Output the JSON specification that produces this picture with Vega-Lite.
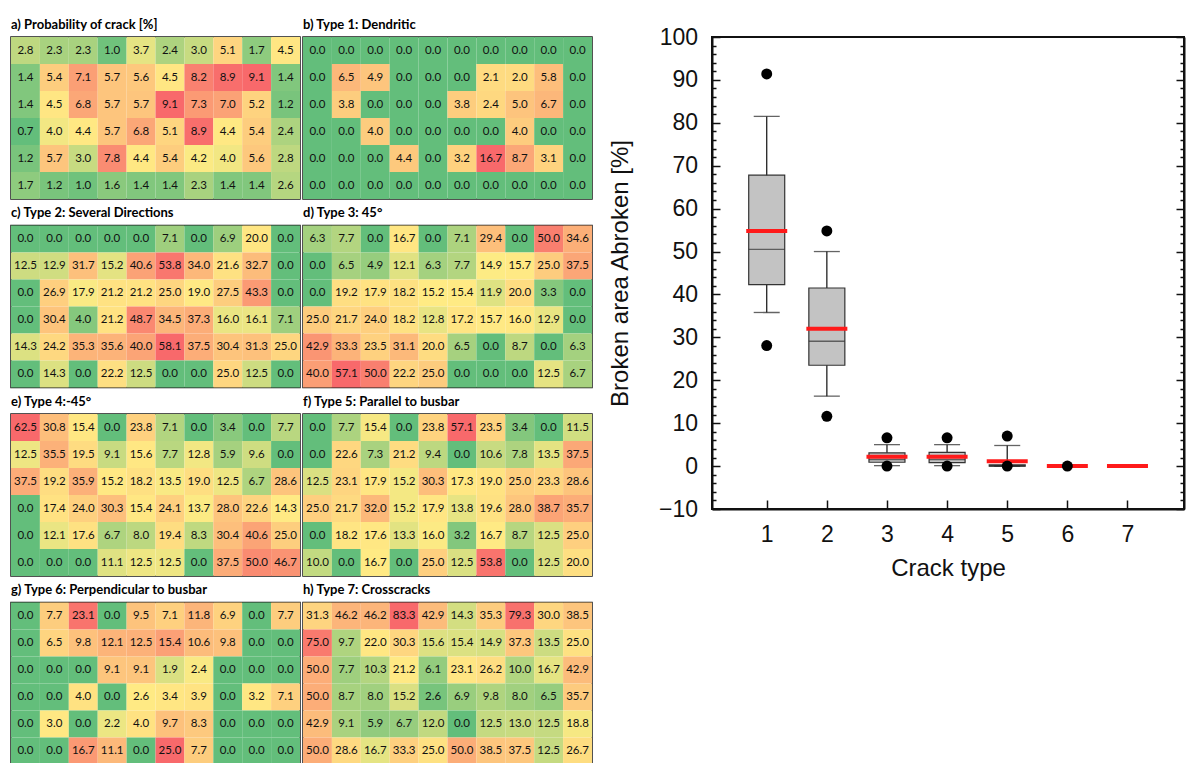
{
"$schema": "https://vega.github.io/schema/vega-lite/v6.json",
"padding": {"left": 10, "top": 17, "right": 7, "bottom": 0},
"background": "white",
"config": {"view": {"stroke": "#1a1a1a", "strokeWidth": 1.5}, "font": "Liberation Sans"},
"datasets": {
"cells": [
{"p":"a","r":1,"c":1,"v":2.8},{"p":"a","r":1,"c":2,"v":2.3},{"p":"a","r":1,"c":3,"v":2.3},{"p":"a","r":1,"c":4,"v":1.0},{"p":"a","r":1,"c":5,"v":3.7},{"p":"a","r":1,"c":6,"v":2.4},{"p":"a","r":1,"c":7,"v":3.0},{"p":"a","r":1,"c":8,"v":5.1},{"p":"a","r":1,"c":9,"v":1.7},{"p":"a","r":1,"c":10,"v":4.5},
{"p":"a","r":2,"c":1,"v":1.4},{"p":"a","r":2,"c":2,"v":5.4},{"p":"a","r":2,"c":3,"v":7.1},{"p":"a","r":2,"c":4,"v":5.7},{"p":"a","r":2,"c":5,"v":5.6},{"p":"a","r":2,"c":6,"v":4.5},{"p":"a","r":2,"c":7,"v":8.2},{"p":"a","r":2,"c":8,"v":8.9},{"p":"a","r":2,"c":9,"v":9.1},{"p":"a","r":2,"c":10,"v":1.4},
{"p":"a","r":3,"c":1,"v":1.4},{"p":"a","r":3,"c":2,"v":4.5},{"p":"a","r":3,"c":3,"v":6.8},{"p":"a","r":3,"c":4,"v":5.7},{"p":"a","r":3,"c":5,"v":5.7},{"p":"a","r":3,"c":6,"v":9.1},{"p":"a","r":3,"c":7,"v":7.3},{"p":"a","r":3,"c":8,"v":7.0},{"p":"a","r":3,"c":9,"v":5.2},{"p":"a","r":3,"c":10,"v":1.2},
{"p":"a","r":4,"c":1,"v":0.7},{"p":"a","r":4,"c":2,"v":4.0},{"p":"a","r":4,"c":3,"v":4.4},{"p":"a","r":4,"c":4,"v":5.7},{"p":"a","r":4,"c":5,"v":6.8},{"p":"a","r":4,"c":6,"v":5.1},{"p":"a","r":4,"c":7,"v":8.9},{"p":"a","r":4,"c":8,"v":4.4},{"p":"a","r":4,"c":9,"v":5.4},{"p":"a","r":4,"c":10,"v":2.4},
{"p":"a","r":5,"c":1,"v":1.2},{"p":"a","r":5,"c":2,"v":5.7},{"p":"a","r":5,"c":3,"v":3.0},{"p":"a","r":5,"c":4,"v":7.8},{"p":"a","r":5,"c":5,"v":4.4},{"p":"a","r":5,"c":6,"v":5.4},{"p":"a","r":5,"c":7,"v":4.2},{"p":"a","r":5,"c":8,"v":4.0},{"p":"a","r":5,"c":9,"v":5.6},{"p":"a","r":5,"c":10,"v":2.8},
{"p":"a","r":6,"c":1,"v":1.7},{"p":"a","r":6,"c":2,"v":1.2},{"p":"a","r":6,"c":3,"v":1.0},{"p":"a","r":6,"c":4,"v":1.6},{"p":"a","r":6,"c":5,"v":1.4},{"p":"a","r":6,"c":6,"v":1.4},{"p":"a","r":6,"c":7,"v":2.3},{"p":"a","r":6,"c":8,"v":1.4},{"p":"a","r":6,"c":9,"v":1.4},{"p":"a","r":6,"c":10,"v":2.6},
{"p":"b","r":1,"c":1,"v":0},{"p":"b","r":1,"c":2,"v":0},{"p":"b","r":1,"c":3,"v":0},{"p":"b","r":1,"c":4,"v":0},{"p":"b","r":1,"c":5,"v":0},{"p":"b","r":1,"c":6,"v":0},{"p":"b","r":1,"c":7,"v":0},{"p":"b","r":1,"c":8,"v":0},{"p":"b","r":1,"c":9,"v":0},{"p":"b","r":1,"c":10,"v":0},
{"p":"b","r":2,"c":1,"v":0},{"p":"b","r":2,"c":2,"v":6.5},{"p":"b","r":2,"c":3,"v":4.9},{"p":"b","r":2,"c":4,"v":0},{"p":"b","r":2,"c":5,"v":0},{"p":"b","r":2,"c":6,"v":0},{"p":"b","r":2,"c":7,"v":2.1},{"p":"b","r":2,"c":8,"v":2.0},{"p":"b","r":2,"c":9,"v":5.8},{"p":"b","r":2,"c":10,"v":0},
{"p":"b","r":3,"c":1,"v":0},{"p":"b","r":3,"c":2,"v":3.8},{"p":"b","r":3,"c":3,"v":0},{"p":"b","r":3,"c":4,"v":0},{"p":"b","r":3,"c":5,"v":0},{"p":"b","r":3,"c":6,"v":3.8},{"p":"b","r":3,"c":7,"v":2.4},{"p":"b","r":3,"c":8,"v":5.0},{"p":"b","r":3,"c":9,"v":6.7},{"p":"b","r":3,"c":10,"v":0},
{"p":"b","r":4,"c":1,"v":0},{"p":"b","r":4,"c":2,"v":0},{"p":"b","r":4,"c":3,"v":4.0},{"p":"b","r":4,"c":4,"v":0},{"p":"b","r":4,"c":5,"v":0},{"p":"b","r":4,"c":6,"v":0},{"p":"b","r":4,"c":7,"v":0},{"p":"b","r":4,"c":8,"v":4.0},{"p":"b","r":4,"c":9,"v":0},{"p":"b","r":4,"c":10,"v":0},
{"p":"b","r":5,"c":1,"v":0},{"p":"b","r":5,"c":2,"v":0},{"p":"b","r":5,"c":3,"v":0},{"p":"b","r":5,"c":4,"v":4.4},{"p":"b","r":5,"c":5,"v":0},{"p":"b","r":5,"c":6,"v":3.2},{"p":"b","r":5,"c":7,"v":16.7},{"p":"b","r":5,"c":8,"v":8.7},{"p":"b","r":5,"c":9,"v":3.1},{"p":"b","r":5,"c":10,"v":0},
{"p":"b","r":6,"c":1,"v":0},{"p":"b","r":6,"c":2,"v":0},{"p":"b","r":6,"c":3,"v":0},{"p":"b","r":6,"c":4,"v":0},{"p":"b","r":6,"c":5,"v":0},{"p":"b","r":6,"c":6,"v":0},{"p":"b","r":6,"c":7,"v":0},{"p":"b","r":6,"c":8,"v":0},{"p":"b","r":6,"c":9,"v":0},{"p":"b","r":6,"c":10,"v":0},
{"p":"c","r":1,"c":1,"v":0},{"p":"c","r":1,"c":2,"v":0},{"p":"c","r":1,"c":3,"v":0},{"p":"c","r":1,"c":4,"v":0},{"p":"c","r":1,"c":5,"v":0},{"p":"c","r":1,"c":6,"v":7.1},{"p":"c","r":1,"c":7,"v":0},{"p":"c","r":1,"c":8,"v":6.9},{"p":"c","r":1,"c":9,"v":20.0},{"p":"c","r":1,"c":10,"v":0},
{"p":"c","r":2,"c":1,"v":12.5},{"p":"c","r":2,"c":2,"v":12.9},{"p":"c","r":2,"c":3,"v":31.7},{"p":"c","r":2,"c":4,"v":15.2},{"p":"c","r":2,"c":5,"v":40.6},{"p":"c","r":2,"c":6,"v":53.8},{"p":"c","r":2,"c":7,"v":34.0},{"p":"c","r":2,"c":8,"v":21.6},{"p":"c","r":2,"c":9,"v":32.7},{"p":"c","r":2,"c":10,"v":0},
{"p":"c","r":3,"c":1,"v":0},{"p":"c","r":3,"c":2,"v":26.9},{"p":"c","r":3,"c":3,"v":17.9},{"p":"c","r":3,"c":4,"v":21.2},{"p":"c","r":3,"c":5,"v":21.2},{"p":"c","r":3,"c":6,"v":25.0},{"p":"c","r":3,"c":7,"v":19.0},{"p":"c","r":3,"c":8,"v":27.5},{"p":"c","r":3,"c":9,"v":43.3},{"p":"c","r":3,"c":10,"v":0},
{"p":"c","r":4,"c":1,"v":0},{"p":"c","r":4,"c":2,"v":30.4},{"p":"c","r":4,"c":3,"v":4.0},{"p":"c","r":4,"c":4,"v":21.2},{"p":"c","r":4,"c":5,"v":48.7},{"p":"c","r":4,"c":6,"v":34.5},{"p":"c","r":4,"c":7,"v":37.3},{"p":"c","r":4,"c":8,"v":16.0},{"p":"c","r":4,"c":9,"v":16.1},{"p":"c","r":4,"c":10,"v":7.1},
{"p":"c","r":5,"c":1,"v":14.3},{"p":"c","r":5,"c":2,"v":24.2},{"p":"c","r":5,"c":3,"v":35.3},{"p":"c","r":5,"c":4,"v":35.6},{"p":"c","r":5,"c":5,"v":40.0},{"p":"c","r":5,"c":6,"v":58.1},{"p":"c","r":5,"c":7,"v":37.5},{"p":"c","r":5,"c":8,"v":30.4},{"p":"c","r":5,"c":9,"v":31.3},{"p":"c","r":5,"c":10,"v":25.0},
{"p":"c","r":6,"c":1,"v":0},{"p":"c","r":6,"c":2,"v":14.3},{"p":"c","r":6,"c":3,"v":0},{"p":"c","r":6,"c":4,"v":22.2},{"p":"c","r":6,"c":5,"v":12.5},{"p":"c","r":6,"c":6,"v":0},{"p":"c","r":6,"c":7,"v":0},{"p":"c","r":6,"c":8,"v":25.0},{"p":"c","r":6,"c":9,"v":12.5},{"p":"c","r":6,"c":10,"v":0},
{"p":"d","r":1,"c":1,"v":6.3},{"p":"d","r":1,"c":2,"v":7.7},{"p":"d","r":1,"c":3,"v":0},{"p":"d","r":1,"c":4,"v":16.7},{"p":"d","r":1,"c":5,"v":0},{"p":"d","r":1,"c":6,"v":7.1},{"p":"d","r":1,"c":7,"v":29.4},{"p":"d","r":1,"c":8,"v":0},{"p":"d","r":1,"c":9,"v":50.0},{"p":"d","r":1,"c":10,"v":34.6},
{"p":"d","r":2,"c":1,"v":0},{"p":"d","r":2,"c":2,"v":6.5},{"p":"d","r":2,"c":3,"v":4.9},{"p":"d","r":2,"c":4,"v":12.1},{"p":"d","r":2,"c":5,"v":6.3},{"p":"d","r":2,"c":6,"v":7.7},{"p":"d","r":2,"c":7,"v":14.9},{"p":"d","r":2,"c":8,"v":15.7},{"p":"d","r":2,"c":9,"v":25.0},{"p":"d","r":2,"c":10,"v":37.5},
{"p":"d","r":3,"c":1,"v":0},{"p":"d","r":3,"c":2,"v":19.2},{"p":"d","r":3,"c":3,"v":17.9},{"p":"d","r":3,"c":4,"v":18.2},{"p":"d","r":3,"c":5,"v":15.2},{"p":"d","r":3,"c":6,"v":15.4},{"p":"d","r":3,"c":7,"v":11.9},{"p":"d","r":3,"c":8,"v":20.0},{"p":"d","r":3,"c":9,"v":3.3},{"p":"d","r":3,"c":10,"v":0},
{"p":"d","r":4,"c":1,"v":25.0},{"p":"d","r":4,"c":2,"v":21.7},{"p":"d","r":4,"c":3,"v":24.0},{"p":"d","r":4,"c":4,"v":18.2},{"p":"d","r":4,"c":5,"v":12.8},{"p":"d","r":4,"c":6,"v":17.2},{"p":"d","r":4,"c":7,"v":15.7},{"p":"d","r":4,"c":8,"v":16.0},{"p":"d","r":4,"c":9,"v":12.9},{"p":"d","r":4,"c":10,"v":0},
{"p":"d","r":5,"c":1,"v":42.9},{"p":"d","r":5,"c":2,"v":33.3},{"p":"d","r":5,"c":3,"v":23.5},{"p":"d","r":5,"c":4,"v":31.1},{"p":"d","r":5,"c":5,"v":20.0},{"p":"d","r":5,"c":6,"v":6.5},{"p":"d","r":5,"c":7,"v":0},{"p":"d","r":5,"c":8,"v":8.7},{"p":"d","r":5,"c":9,"v":0},{"p":"d","r":5,"c":10,"v":6.3},
{"p":"d","r":6,"c":1,"v":40.0},{"p":"d","r":6,"c":2,"v":57.1},{"p":"d","r":6,"c":3,"v":50.0},{"p":"d","r":6,"c":4,"v":22.2},{"p":"d","r":6,"c":5,"v":25.0},{"p":"d","r":6,"c":6,"v":0},{"p":"d","r":6,"c":7,"v":0},{"p":"d","r":6,"c":8,"v":0},{"p":"d","r":6,"c":9,"v":12.5},{"p":"d","r":6,"c":10,"v":6.7},
{"p":"e","r":1,"c":1,"v":62.5},{"p":"e","r":1,"c":2,"v":30.8},{"p":"e","r":1,"c":3,"v":15.4},{"p":"e","r":1,"c":4,"v":0},{"p":"e","r":1,"c":5,"v":23.8},{"p":"e","r":1,"c":6,"v":7.1},{"p":"e","r":1,"c":7,"v":0},{"p":"e","r":1,"c":8,"v":3.4},{"p":"e","r":1,"c":9,"v":0},{"p":"e","r":1,"c":10,"v":7.7},
{"p":"e","r":2,"c":1,"v":12.5},{"p":"e","r":2,"c":2,"v":35.5},{"p":"e","r":2,"c":3,"v":19.5},{"p":"e","r":2,"c":4,"v":9.1},{"p":"e","r":2,"c":5,"v":15.6},{"p":"e","r":2,"c":6,"v":7.7},{"p":"e","r":2,"c":7,"v":12.8},{"p":"e","r":2,"c":8,"v":5.9},{"p":"e","r":2,"c":9,"v":9.6},{"p":"e","r":2,"c":10,"v":0},
{"p":"e","r":3,"c":1,"v":37.5},{"p":"e","r":3,"c":2,"v":19.2},{"p":"e","r":3,"c":3,"v":35.9},{"p":"e","r":3,"c":4,"v":15.2},{"p":"e","r":3,"c":5,"v":18.2},{"p":"e","r":3,"c":6,"v":13.5},{"p":"e","r":3,"c":7,"v":19.0},{"p":"e","r":3,"c":8,"v":12.5},{"p":"e","r":3,"c":9,"v":6.7},{"p":"e","r":3,"c":10,"v":28.6},
{"p":"e","r":4,"c":1,"v":0},{"p":"e","r":4,"c":2,"v":17.4},{"p":"e","r":4,"c":3,"v":24.0},{"p":"e","r":4,"c":4,"v":30.3},{"p":"e","r":4,"c":5,"v":15.4},{"p":"e","r":4,"c":6,"v":24.1},{"p":"e","r":4,"c":7,"v":13.7},{"p":"e","r":4,"c":8,"v":28.0},{"p":"e","r":4,"c":9,"v":22.6},{"p":"e","r":4,"c":10,"v":14.3},
{"p":"e","r":5,"c":1,"v":0},{"p":"e","r":5,"c":2,"v":12.1},{"p":"e","r":5,"c":3,"v":17.6},{"p":"e","r":5,"c":4,"v":6.7},{"p":"e","r":5,"c":5,"v":8.0},{"p":"e","r":5,"c":6,"v":19.4},{"p":"e","r":5,"c":7,"v":8.3},{"p":"e","r":5,"c":8,"v":30.4},{"p":"e","r":5,"c":9,"v":40.6},{"p":"e","r":5,"c":10,"v":25.0},
{"p":"e","r":6,"c":1,"v":0},{"p":"e","r":6,"c":2,"v":0},{"p":"e","r":6,"c":3,"v":0},{"p":"e","r":6,"c":4,"v":11.1},{"p":"e","r":6,"c":5,"v":12.5},{"p":"e","r":6,"c":6,"v":12.5},{"p":"e","r":6,"c":7,"v":0},{"p":"e","r":6,"c":8,"v":37.5},{"p":"e","r":6,"c":9,"v":50.0},{"p":"e","r":6,"c":10,"v":46.7},
{"p":"f","r":1,"c":1,"v":0},{"p":"f","r":1,"c":2,"v":7.7},{"p":"f","r":1,"c":3,"v":15.4},{"p":"f","r":1,"c":4,"v":0},{"p":"f","r":1,"c":5,"v":23.8},{"p":"f","r":1,"c":6,"v":57.1},{"p":"f","r":1,"c":7,"v":23.5},{"p":"f","r":1,"c":8,"v":3.4},{"p":"f","r":1,"c":9,"v":0},{"p":"f","r":1,"c":10,"v":11.5},
{"p":"f","r":2,"c":1,"v":0},{"p":"f","r":2,"c":2,"v":22.6},{"p":"f","r":2,"c":3,"v":7.3},{"p":"f","r":2,"c":4,"v":21.2},{"p":"f","r":2,"c":5,"v":9.4},{"p":"f","r":2,"c":6,"v":0},{"p":"f","r":2,"c":7,"v":10.6},{"p":"f","r":2,"c":8,"v":7.8},{"p":"f","r":2,"c":9,"v":13.5},{"p":"f","r":2,"c":10,"v":37.5},
{"p":"f","r":3,"c":1,"v":12.5},{"p":"f","r":3,"c":2,"v":23.1},{"p":"f","r":3,"c":3,"v":17.9},{"p":"f","r":3,"c":4,"v":15.2},{"p":"f","r":3,"c":5,"v":30.3},{"p":"f","r":3,"c":6,"v":17.3},{"p":"f","r":3,"c":7,"v":19.0},{"p":"f","r":3,"c":8,"v":25.0},{"p":"f","r":3,"c":9,"v":23.3},{"p":"f","r":3,"c":10,"v":28.6},
{"p":"f","r":4,"c":1,"v":25.0},{"p":"f","r":4,"c":2,"v":21.7},{"p":"f","r":4,"c":3,"v":32.0},{"p":"f","r":4,"c":4,"v":15.2},{"p":"f","r":4,"c":5,"v":17.9},{"p":"f","r":4,"c":6,"v":13.8},{"p":"f","r":4,"c":7,"v":19.6},{"p":"f","r":4,"c":8,"v":28.0},{"p":"f","r":4,"c":9,"v":38.7},{"p":"f","r":4,"c":10,"v":35.7},
{"p":"f","r":5,"c":1,"v":0},{"p":"f","r":5,"c":2,"v":18.2},{"p":"f","r":5,"c":3,"v":17.6},{"p":"f","r":5,"c":4,"v":13.3},{"p":"f","r":5,"c":5,"v":16.0},{"p":"f","r":5,"c":6,"v":3.2},{"p":"f","r":5,"c":7,"v":16.7},{"p":"f","r":5,"c":8,"v":8.7},{"p":"f","r":5,"c":9,"v":12.5},{"p":"f","r":5,"c":10,"v":25.0},
{"p":"f","r":6,"c":1,"v":10.0},{"p":"f","r":6,"c":2,"v":0},{"p":"f","r":6,"c":3,"v":16.7},{"p":"f","r":6,"c":4,"v":0},{"p":"f","r":6,"c":5,"v":25.0},{"p":"f","r":6,"c":6,"v":12.5},{"p":"f","r":6,"c":7,"v":53.8},{"p":"f","r":6,"c":8,"v":0},{"p":"f","r":6,"c":9,"v":12.5},{"p":"f","r":6,"c":10,"v":20.0},
{"p":"g","r":1,"c":1,"v":0},{"p":"g","r":1,"c":2,"v":7.7},{"p":"g","r":1,"c":3,"v":23.1},{"p":"g","r":1,"c":4,"v":0},{"p":"g","r":1,"c":5,"v":9.5},{"p":"g","r":1,"c":6,"v":7.1},{"p":"g","r":1,"c":7,"v":11.8},{"p":"g","r":1,"c":8,"v":6.9},{"p":"g","r":1,"c":9,"v":0},{"p":"g","r":1,"c":10,"v":7.7},
{"p":"g","r":2,"c":1,"v":0},{"p":"g","r":2,"c":2,"v":6.5},{"p":"g","r":2,"c":3,"v":9.8},{"p":"g","r":2,"c":4,"v":12.1},{"p":"g","r":2,"c":5,"v":12.5},{"p":"g","r":2,"c":6,"v":15.4},{"p":"g","r":2,"c":7,"v":10.6},{"p":"g","r":2,"c":8,"v":9.8},{"p":"g","r":2,"c":9,"v":0},{"p":"g","r":2,"c":10,"v":0},
{"p":"g","r":3,"c":1,"v":0},{"p":"g","r":3,"c":2,"v":0},{"p":"g","r":3,"c":3,"v":0},{"p":"g","r":3,"c":4,"v":9.1},{"p":"g","r":3,"c":5,"v":9.1},{"p":"g","r":3,"c":6,"v":1.9},{"p":"g","r":3,"c":7,"v":2.4},{"p":"g","r":3,"c":8,"v":0},{"p":"g","r":3,"c":9,"v":0},{"p":"g","r":3,"c":10,"v":0},
{"p":"g","r":4,"c":1,"v":0},{"p":"g","r":4,"c":2,"v":0},{"p":"g","r":4,"c":3,"v":4.0},{"p":"g","r":4,"c":4,"v":0},{"p":"g","r":4,"c":5,"v":2.6},{"p":"g","r":4,"c":6,"v":3.4},{"p":"g","r":4,"c":7,"v":3.9},{"p":"g","r":4,"c":8,"v":0},{"p":"g","r":4,"c":9,"v":3.2},{"p":"g","r":4,"c":10,"v":7.1},
{"p":"g","r":5,"c":1,"v":0},{"p":"g","r":5,"c":2,"v":3.0},{"p":"g","r":5,"c":3,"v":0},{"p":"g","r":5,"c":4,"v":2.2},{"p":"g","r":5,"c":5,"v":4.0},{"p":"g","r":5,"c":6,"v":9.7},{"p":"g","r":5,"c":7,"v":8.3},{"p":"g","r":5,"c":8,"v":0},{"p":"g","r":5,"c":9,"v":0},{"p":"g","r":5,"c":10,"v":0},
{"p":"g","r":6,"c":1,"v":0},{"p":"g","r":6,"c":2,"v":0},{"p":"g","r":6,"c":3,"v":16.7},{"p":"g","r":6,"c":4,"v":11.1},{"p":"g","r":6,"c":5,"v":0},{"p":"g","r":6,"c":6,"v":25.0},{"p":"g","r":6,"c":7,"v":7.7},{"p":"g","r":6,"c":8,"v":0},{"p":"g","r":6,"c":9,"v":0},{"p":"g","r":6,"c":10,"v":0},
{"p":"h","r":1,"c":1,"v":31.3},{"p":"h","r":1,"c":2,"v":46.2},{"p":"h","r":1,"c":3,"v":46.2},{"p":"h","r":1,"c":4,"v":83.3},{"p":"h","r":1,"c":5,"v":42.9},{"p":"h","r":1,"c":6,"v":14.3},{"p":"h","r":1,"c":7,"v":35.3},{"p":"h","r":1,"c":8,"v":79.3},{"p":"h","r":1,"c":9,"v":30.0},{"p":"h","r":1,"c":10,"v":38.5},
{"p":"h","r":2,"c":1,"v":75.0},{"p":"h","r":2,"c":2,"v":9.7},{"p":"h","r":2,"c":3,"v":22.0},{"p":"h","r":2,"c":4,"v":30.3},{"p":"h","r":2,"c":5,"v":15.6},{"p":"h","r":2,"c":6,"v":15.4},{"p":"h","r":2,"c":7,"v":14.9},{"p":"h","r":2,"c":8,"v":37.3},{"p":"h","r":2,"c":9,"v":13.5},{"p":"h","r":2,"c":10,"v":25.0},
{"p":"h","r":3,"c":1,"v":50.0},{"p":"h","r":3,"c":2,"v":7.7},{"p":"h","r":3,"c":3,"v":10.3},{"p":"h","r":3,"c":4,"v":21.2},{"p":"h","r":3,"c":5,"v":6.1},{"p":"h","r":3,"c":6,"v":23.1},{"p":"h","r":3,"c":7,"v":26.2},{"p":"h","r":3,"c":8,"v":10.0},{"p":"h","r":3,"c":9,"v":16.7},{"p":"h","r":3,"c":10,"v":42.9},
{"p":"h","r":4,"c":1,"v":50.0},{"p":"h","r":4,"c":2,"v":8.7},{"p":"h","r":4,"c":3,"v":8.0},{"p":"h","r":4,"c":4,"v":15.2},{"p":"h","r":4,"c":5,"v":2.6},{"p":"h","r":4,"c":6,"v":6.9},{"p":"h","r":4,"c":7,"v":9.8},{"p":"h","r":4,"c":8,"v":8.0},{"p":"h","r":4,"c":9,"v":6.5},{"p":"h","r":4,"c":10,"v":35.7},
{"p":"h","r":5,"c":1,"v":42.9},{"p":"h","r":5,"c":2,"v":9.1},{"p":"h","r":5,"c":3,"v":5.9},{"p":"h","r":5,"c":4,"v":6.7},{"p":"h","r":5,"c":5,"v":12.0},{"p":"h","r":5,"c":6,"v":0},{"p":"h","r":5,"c":7,"v":12.5},{"p":"h","r":5,"c":8,"v":13.0},{"p":"h","r":5,"c":9,"v":12.5},{"p":"h","r":5,"c":10,"v":18.8},
{"p":"h","r":6,"c":1,"v":50.0},{"p":"h","r":6,"c":2,"v":28.6},{"p":"h","r":6,"c":3,"v":16.7},{"p":"h","r":6,"c":4,"v":33.3},{"p":"h","r":6,"c":5,"v":25.0},{"p":"h","r":6,"c":6,"v":50.0},{"p":"h","r":6,"c":7,"v":38.5},{"p":"h","r":6,"c":8,"v":37.5},{"p":"h","r":6,"c":9,"v":12.5},{"p":"h","r":6,"c":10,"v":26.7}
],
"types": [
{"t":1,"lo":35.8,"q1":42.3,"med":50.5,"q3":67.8,"hi":81.5,"mean":54.8},
{"t":2,"lo":16.3,"q1":23.5,"med":29.1,"q3":41.5,"hi":50.0,"mean":32.0},
{"t":3,"lo":0.1,"q1":0.9,"med":1.5,"q3":3.1,"hi":5.0,"mean":2.2},
{"t":4,"lo":0.1,"q1":0.8,"med":1.5,"q3":3.2,"hi":5.0,"mean":2.2},
{"t":5,"lo":0,"q1":0,"med":0,"q3":0.3,"hi":4.8,"mean":1.1},
{"t":6,"lo":0,"q1":0,"med":0,"q3":0,"hi":0,"mean":0},
{"t":7,"lo":0,"q1":0,"med":0,"q3":0,"hi":0,"mean":0}
],
"out": [
{"t":1,"v":91.4},{"t":1,"v":28.1},{"t":2,"v":54.8},{"t":2,"v":11.6},{"t":3,"v":6.6},{"t":3,"v":0},{"t":4,"v":6.6},{"t":4,"v":0},{"t":5,"v":7.0},{"t":5,"v":0},{"t":6,"v":0}
]
},
"columns": 2,
"align": "none",
"spacing": 14,
"concat": [
{
"data": {"name": "cells"},
"transform": [
{"joinaggregate": [{"op": "min", "field": "v", "as": "mn"}, {"op": "median", "field": "v", "as": "md"}, {"op": "max", "field": "v", "as": "mx"}], "groupby": ["p"]},
{"calculate": "datum.v <= datum.md ? (datum.md > datum.mn ? 0.5*(datum.v-datum.mn)/(datum.md-datum.mn) : 0) : 0.5 + 0.5*(datum.v-datum.md)/(datum.mx-datum.md)", "as": "t"}
],
"columns": 2,
"spacing": {"row": 5.5, "column": 1},
"facet": {"field": "p", "type": "nominal", "title": null,
"header": {"labelExpr": "({'a':'a) Probability of crack [%]','b':'b) Type 1: Dendritic','c':'c) Type 2: Several Directions','d':'d) Type 3: 45°','e':'e) Type 4:-45°','f':'f) Type 5: Parallel to busbar','g':'g) Type 6: Perpendicular to busbar','h':'h) Type 7: Crosscracks'})[datum.value]",
"labelAnchor": "start", "labelAlign": "left", "labelOrient": "top", "labelFont": "Lato", "labelFontSize": 13, "labelFontWeight": "bold", "labelColor": "#000", "labelPadding": 5.5}},
"spec": {
"width": 289, "height": 162,
"encoding": {
"x": {"field": "c", "type": "ordinal", "axis": null, "scale": {"paddingInner": 0, "paddingOuter": 0}},
"y": {"field": "r", "type": "ordinal", "axis": null, "scale": {"paddingInner": 0, "paddingOuter": 0}}
},
"layer": [
{"mark": {"type": "rect"}, "encoding": {"color": {"field": "t", "type": "quantitative", "scale": {"domain": [0, 0.5, 1], "range": ["#63BE7B", "#FFEB84", "#F8696B"], "interpolate": "rgb"}, "legend": null}}},
{"mark": {"type": "text", "font": "Lato", "fontSize": 11.5, "color": "#111"}, "encoding": {"text": {"field": "v", "type": "quantitative", "format": ".1f"}}}
]
}
},
{
"width": 472, "height": 472,
"view": {"stroke": "#111", "strokeWidth": 2},
"layer": [
{"data": {"name": "types"}, "mark": {"type": "rule", "color": "#222", "strokeWidth": 1.3},
"encoding": {
"x": {"field": "t", "type": "quantitative", "scale": {"domain": [0.09, 7.94], "nice": false, "zero": false, "padding": 0},
"axis": {"values": [1,2,3,4,5,6,7], "format": "d", "grid": false, "tickSize": -9, "tickWidth": 1.5, "tickColor": "#111", "domainColor": "#111", "domainWidth": 2, "labelFont": "Liberation Sans", "labelFontSize": 23, "labelColor": "#111", "labelPadding": 23.5, "title": "Crack type", "titleFont": "Liberation Sans", "titleFontSize": 24, "titleFontWeight": "normal", "titleColor": "#111", "titlePadding": 10}},
"y": {"field": "lo", "type": "quantitative", "scale": {"domain": [-10, 100], "nice": false, "zero": false, "padding": 0},
"axis": {"orient": "left", "values": [-10,-8,-6,-4,-2,0,2,4,6,8,10,12,14,16,18,20,22,24,26,28,30,32,34,36,38,40,42,44,46,48,50,52,54,56,58,60,62,64,66,68,70,72,74,76,78,80,82,84,86,88,90,92,94,96,98,100],
"labelExpr": "datum.value % 10 === 0 ? datum.label : ''",
"tickSize": {"condition": {"test": "datum.value % 10 === 0", "value": -8}, "value": -4},
"tickWidth": 1.5, "tickColor": "#111", "domainColor": "#111", "domainWidth": 2, "grid": false,
"labelFont": "Liberation Sans", "labelFontSize": 23, "labelColor": "#111", "labelPadding": 22.5, "labelFlush": false, "labelOverlap": false, "labelBound": false,
"title": "Broken area Abroken [%]", "titleFont": "Liberation Sans", "titleFontSize": 24, "titleFontWeight": "normal", "titleColor": "#111", "titlePadding": 26}},
"y2": {"field": "hi"}
}},
{"data": {"name": "types"}, "mark": {"type": "bar", "width": 36, "fill": "#c3c3c3", "stroke": "#333", "strokeWidth": 1.2},
"encoding": {
"x": {"field": "t", "type": "quantitative"},
"y": {"field": "q1", "type": "quantitative", "axis": {"orient": "right", "values": [-10,-8,-6,-4,-2,0,2,4,6,8,10,12,14,16,18,20,22,24,26,28,30,32,34,36,38,40,42,44,46,48,50,52,54,56,58,60,62,64,66,68,70,72,74,76,78,80,82,84,86,88,90,92,94,96,98,100],
"labels": false, "tickSize": {"condition": {"test": "datum.value % 10 === 0", "value": -8}, "value": -4}, "tickWidth": 1.5, "tickColor": "#111", "domainColor": "#111", "domainWidth": 2, "grid": false, "title": null}},
"y2": {"field": "q3"}
}},
{"data": {"name": "types"}, "mark": {"type": "tick", "orient": "horizontal", "size": 36, "thickness": 1.3, "color": "#333"},
"encoding": {"x": {"field": "t", "type": "quantitative"}, "y": {"field": "med", "type": "quantitative", "axis": null}}},
{"data": {"name": "types"}, "mark": {"type": "tick", "orient": "horizontal", "size": 26, "thickness": 1.3, "color": "#222"},
"encoding": {"x": {"field": "t", "type": "quantitative"}, "y": {"field": "hi", "type": "quantitative", "axis": null}}},
{"data": {"name": "types"}, "mark": {"type": "tick", "orient": "horizontal", "size": 26, "thickness": 1.3, "color": "#222"},
"encoding": {"x": {"field": "t", "type": "quantitative"}, "y": {"field": "lo", "type": "quantitative", "axis": null}}},
{"data": {"name": "types"}, "mark": {"type": "tick", "orient": "horizontal", "size": 41, "thickness": 4, "color": "#ff1a1a", "opacity": 1},
"encoding": {"x": {"field": "t", "type": "quantitative"}, "y": {"field": "mean", "type": "quantitative", "axis": null}}},
{"data": {"name": "out"}, "mark": {"type": "circle", "size": 120, "color": "#000", "opacity": 1},
"encoding": {"x": {"field": "t", "type": "quantitative"}, "y": {"field": "v", "type": "quantitative", "axis": null}}}
],
"resolve": {"axis": {"y": "independent"}}
}
]
}
